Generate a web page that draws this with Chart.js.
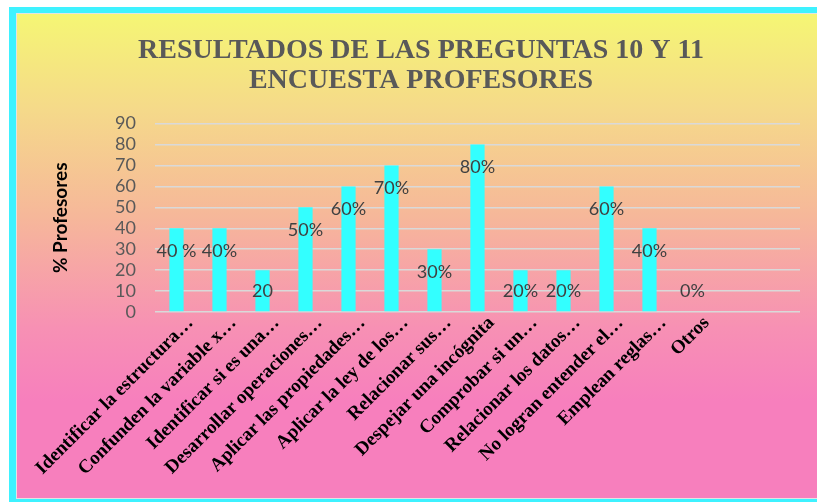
<!DOCTYPE html>
<html>
<head>
<meta charset="utf-8">
<script src="https://cdn.jsdelivr.net/npm/chart.js@4"></script>
<style>
  html, body { margin: 0; padding: 0; background: #ffffff; overflow: hidden; width: 817px; height: 502px; }
  /* marco cian exterior (sin lado derecho: el original sigue fuera de la imagen) */
  #marco {
    position: absolute; left: 9px; top: 7px; width: 808px; height: 495px;
    background: #3ef2ff;
  }
  /* panel interior con degradado amarillo -> rosa */
  #panel {
    position: absolute; left: 16px; top: 13px; width: 801px; height: 486px;
    border: 1px solid #e3e3e3; border-right: none; box-sizing: border-box;
    background: linear-gradient(to bottom,
      #f5f674 0%, #f5d98a 20%, #f6b79a 42%, #f790b4 65%, #f77fbd 80%, #f77fbd 100%);
  }
  #grafico { position: absolute; left: 18px; top: 15px; }
</style>
</head>
<body>
<div id="marco"></div>
<div id="panel"></div>
<canvas id="grafico" width="799" height="484"></canvas>
<script>
// ── DATOS ────────────────────────────────────────────────
const categorias = [
  'Identificar la estructura…',
  'Confunden la variable x…',
  'Identificar si es una…',
  'Desarrollar operaciones…',
  'Aplicar las propiedades…',
  'Aplicar la ley de los…',
  'Relacionar sus…',
  'Despejar una incógnita',
  'Comprobar si un…',
  'Relacionar los datos…',
  'No logran entender el…',
  'Emplean reglas…',
  'Otros',
  '',
  ''
];
const valores = [40, 40, 20, 50, 60, 70, 30, 80, 20, 20, 60, 40, 0, null, null];
const etiquetas = ['40 %', '40%', '20', '50%', '60%', '70%', '30%', '80%', '20%', '20%', '60%', '40%', '0%'];
const ticksY = [0, 10, 20, 30, 40, 50, 60, 70, 80, 90];

// ── ETIQUETAS DE DATOS (dibujadas dentro de la barra) ───
const etiquetasPlugin = {
  id: 'etiquetas',
  afterDatasetsDraw(chart) {
    const ctx = chart.ctx;
    const y = chart.scales.y;
    const meta = chart.getDatasetMeta(0);
    ctx.save();
    ctx.font = '18px Lato';
    ctx.fillStyle = '#404040';
    ctx.textAlign = 'center';
    ctx.textBaseline = 'middle';
    etiquetas.forEach((txt, i) => {
      const el = meta.data[i];
      if (!el) return;
      const v = valores[i];
      ctx.fillText(txt, el.x, y.getPixelForValue(Math.max(v - 11, 10)));
    });
    ctx.restore();
  }
};

new Chart(document.getElementById('grafico').getContext('2d'), {
  type: 'bar',
  data: {
    labels: categorias,
    datasets: [{
      data: valores,
      backgroundColor: '#33ffff',
      borderWidth: 0,
      categoryPercentage: 1,
      barPercentage: 0.33
    }]
  },
  options: {
    responsive: false,
    animation: false,
    // relleno izquierdo para centrar el título como en el original
    layout: { padding: { left: 24, right: 17, top: 0, bottom: 0 } },
    plugins: {
      legend: { display: false },
      tooltip: { enabled: false },
      title: {
        display: true,
        text: ['RESULTADOS DE LAS PREGUNTAS 10 Y 11', 'ENCUESTA PROFESORES'],
        color: '#595959',
        font: { family: 'Liberation Serif', size: 28, weight: 'bold', lineHeight: 1.1 },
        padding: { top: 20, bottom: 27 }
      }
    },
    scales: {
      x: {
        grid: { display: false },
        border: { display: false },
        ticks: {
          color: '#000000',
          font: { family: 'Liberation Serif', size: 19, weight: 'bold' },
          maxRotation: 45,
          minRotation: 45,
          autoSkip: false,
          labelOffset: 14,
          padding: -8
        },
        afterFit(scale) { scale.height = 187; }
      },
      y: {
        min: 0,
        max: 90,
        afterBuildTicks(scale) { scale.ticks = ticksY.map(v => ({ value: v })); },
        grid: { color: '#d9d9d9', lineWidth: 1.5, drawTicks: false },
        border: { display: false },
        ticks: {
          color: '#595959',
          font: { family: 'Lato', size: 18 },
          autoSkip: false,
          padding: 19
        },
        title: {
          display: true,
          text: '% Profesores',
          color: '#000000',
          font: { family: 'Lato', size: 19, weight: 'bold' },
          padding: { top: 7 }
        },
        afterFit(scale) { scale.width = 113; }
      }
    }
  },
  plugins: [etiquetasPlugin]
});
</script>
</body>
</html>
